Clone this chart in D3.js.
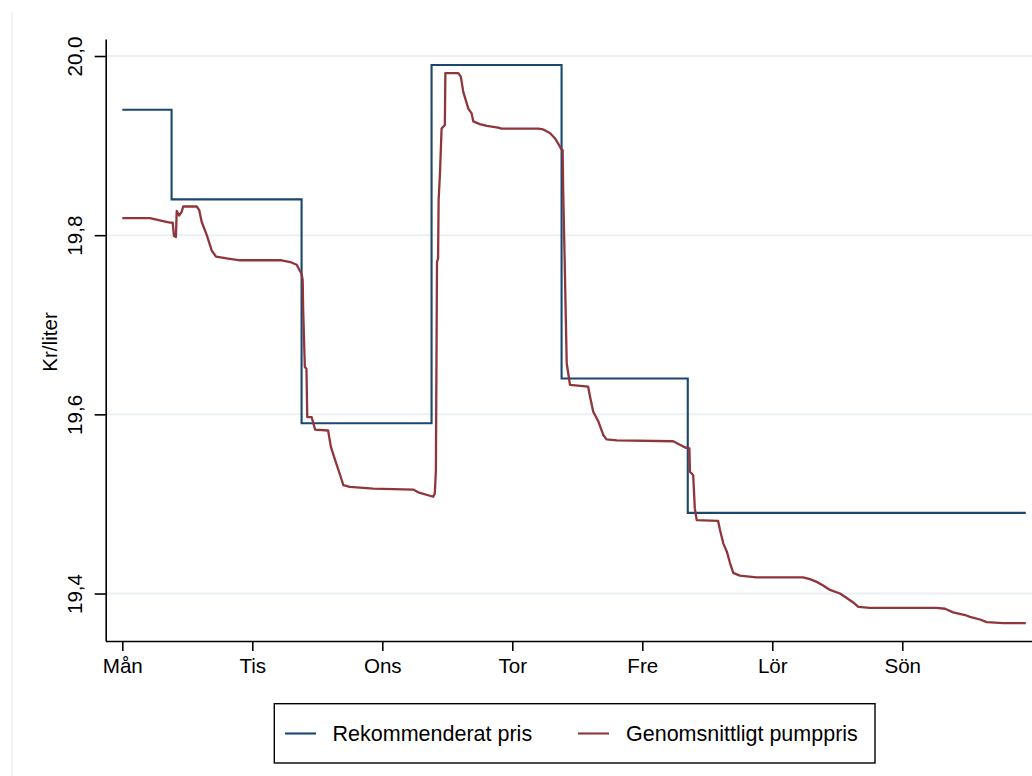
<!DOCTYPE html>
<html>
<head>
<meta charset="utf-8">
<script src="https://cdn.jsdelivr.net/npm/d3@7"></script>
<style>
  html, body { margin: 0; padding: 0; background: #ffffff; }
  svg { display: block; font-family: "Liberation Sans", Arial, Helvetica, sans-serif; }
</style>
</head>
<body>
<svg id="chart" width="1032" height="776"></svg>
<script>
// Weekday tick labels (one per day, hours since Monday 00:00)
const dayLabels = ["Mån", "Tis", "Ons", "Tor", "Fre", "Lör", "Sön"];
const dayHours = [0, 24, 48, 72, 96, 120, 144];

// Price ticks (kr/liter)
const priceTicks = [19.4, 19.6, 19.8, 20.0];

// Recommended price: changes in steps (hour of change, new price)
const recHours = [0, 9.1, 33.1, 57.1, 81.1, 104.4, 166.8];
const recPrice = [19.94, 19.84, 19.59, 19.99, 19.64, 19.49, 19.49];

// Average pump price over the week
const pumpHours = [
  0, 5.1, 7.3, 8.8, 9.3, 9.55, 9.9, 10.05, 10.5, 10.95, 11.25, 11.9, 13.75, 14.2, 14.65,
  15.6, 16.5, 17.3, 19.3, 21.7, 29.4, 31.0, 32.2, 32.8, 33.1, 33.3, 33.4, 33.7, 34.0,
  34.15, 34.95, 35.6, 38.0, 38.5, 39.3, 39.9, 40.5, 40.8, 42.0, 46.3, 53.7, 54.65, 57.4,
  57.7, 57.9, 58.1, 58.3, 58.4, 58.65, 58.95, 59.55, 59.65, 62.0, 62.5, 62.95, 63.9, 64.5,
  64.8, 66.0, 67.3, 69.4, 70.0, 76.8, 77.7, 78.95, 79.9, 80.5, 80.95, 81.3, 81.4, 81.7,
  82.05, 82.65, 86.0, 86.35, 86.95, 87.9, 88.8, 89.4, 91.3, 101.7, 102.95, 103.9, 104.7,
  104.8, 105.4, 105.7, 106.05, 110.0, 110.35, 110.95, 111.6, 112.2, 112.8, 114.0, 117.1,
  125.7, 126.95, 128.2, 129.4, 130.65, 132.5, 133.75, 134.95, 135.9, 138.0, 150.35, 151.9,
  153.4, 155.6, 156.5, 158.35, 159.6, 162.65, 166.8
];
const pumpPrice = [
  19.819, 19.819, 19.816, 19.814, 19.814, 19.799, 19.798, 19.827, 19.822, 19.826, 19.832, 19.832, 19.832, 19.828, 19.815,
  19.800, 19.783, 19.776, 19.774, 19.772, 19.772, 19.770, 19.767, 19.760, 19.757, 19.750, 19.716, 19.653, 19.651,
  19.597, 19.597, 19.583, 19.582, 19.564, 19.549, 19.538, 19.527, 19.521, 19.519, 19.517, 19.516, 19.513, 19.508,
  19.512, 19.538, 19.770, 19.774, 19.839, 19.869, 19.919, 19.923, 19.981, 19.981, 19.977, 19.960, 19.941, 19.936,
  19.927, 19.924, 19.922, 19.920, 19.919, 19.919, 19.918, 19.914, 19.908, 19.902, 19.897, 19.895, 19.850, 19.763,
  19.657, 19.633, 19.631, 19.620, 19.603, 19.592, 19.577, 19.572, 19.571, 19.570, 19.566, 19.563, 19.562,
  19.536, 19.532, 19.495, 19.482, 19.481, 19.471, 19.456, 19.447, 19.434, 19.423, 19.420, 19.418,
  19.418, 19.416, 19.413, 19.409, 19.404, 19.400, 19.395, 19.390, 19.385, 19.384, 19.384, 19.383,
  19.379, 19.376, 19.374, 19.371, 19.368, 19.367, 19.367
];

const seriesNames = ["Rekommenderat pris", "Genomsnittligt pumppris"];
const seriesColors = ["#1a476f", "#90353b"];

const svg = d3.select("#chart");
const fontSize = 20.6;
const legendFontSize = 21.5;

const plot = { left: 105.7, top: 39, bottom: 641 };

const x = d3.scaleLinear().domain([-3.1, 170.5]).range([105.5, 1045.8]);
const y = d3.scaleLinear().domain([19.347, 20.019]).range([plot.bottom, plot.top]);

// Faint outer frame edge
svg.append("line")
  .attr("x1", 12).attr("x2", 12).attr("y1", 12).attr("y2", 776)
  .attr("stroke", "#e9eef1").attr("stroke-width", 1.2);

// Horizontal grid lines
svg.append("g")
  .selectAll("line")
  .data(priceTicks)
  .join("line")
  .attr("x1", plot.left).attr("x2", 1032)
  .attr("y1", d => y(d)).attr("y2", d => y(d))
  .attr("stroke", "#eaf0f3").attr("stroke-width", 2);

const fmt = d => d3.format(".1f")(d).replace(".", ",");

// Y axis
const yAxis = svg.append("g")
  .attr("transform", `translate(${plot.left},0)`)
  .call(d3.axisLeft(y).tickValues(priceTicks).tickSize(11).tickSizeOuter(0).tickFormat(fmt));
yAxis.select(".domain").attr("stroke", "#000").attr("stroke-width", 1.6);
yAxis.selectAll(".tick line").attr("stroke", "#000").attr("stroke-width", 1.6);
yAxis.selectAll(".tick text")
  .attr("font-size", fontSize)
  .attr("font-family", "Liberation Sans, Arial, sans-serif")
  .attr("fill", "#000")
  .attr("text-anchor", "middle")
  .attr("dy", 0)
  .attr("x", 0)
  .attr("transform", "translate(-24,0) rotate(-90)");

// X axis
const xAxis = svg.append("g")
  .attr("transform", `translate(0,${plot.bottom})`)
  .call(d3.axisBottom(x).tickValues(dayHours).tickSize(10).tickSizeOuter(0)
    .tickFormat((d, i) => dayLabels[i]));
xAxis.select(".domain").attr("stroke", "#000").attr("stroke-width", 1.6);
xAxis.selectAll(".tick line").attr("stroke", "#000").attr("stroke-width", 1.6);
xAxis.selectAll(".tick text")
  .attr("font-size", fontSize)
  .attr("font-family", "Liberation Sans, Arial, sans-serif")
  .attr("fill", "#000")
  .attr("dy", 0)
  .attr("y", 31.5);

// Y axis title
svg.append("text")
  .attr("transform", `translate(57,${(plot.top + plot.bottom) / 2 + 2}) rotate(-90)`)
  .attr("text-anchor", "middle")
  .attr("font-size", fontSize)
  .attr("fill", "#000")
  .text("Kr/liter");

// Recommended price (step line)
const recData = recHours.map((h, i) => [h, recPrice[i]]);
svg.append("path")
  .datum(recData)
  .attr("fill", "none")
  .attr("stroke", seriesColors[0])
  .attr("stroke-width", 2.1)
  .attr("d", d3.line().x(d => x(d[0])).y(d => y(d[1])).curve(d3.curveStepAfter));

// Average pump price
const pumpData = pumpHours.map((h, i) => [h, pumpPrice[i]]);
svg.append("path")
  .datum(pumpData)
  .attr("fill", "none")
  .attr("stroke", seriesColors[1])
  .attr("stroke-width", 2.3)
  .attr("stroke-linejoin", "round")
  .attr("d", d3.line().x(d => x(d[0])).y(d => y(d[1])));

// Legend
const legend = svg.append("g");
legend.append("rect")
  .attr("x", 274.3).attr("y", 703.7)
  .attr("width", 600.7).attr("height", 59.3)
  .attr("fill", "#fff").attr("stroke", "#000").attr("stroke-width", 1.4);

const legendItems = [
  { x0: 285, x1: 316, tx: 332.6 },
  { x0: 578, x1: 609, tx: 626 }
];
legendItems.forEach((it, i) => {
  legend.append("line")
    .attr("x1", it.x0).attr("x2", it.x1)
    .attr("y1", 733.5).attr("y2", 733.5)
    .attr("stroke", seriesColors[i]).attr("stroke-width", 2.1);
  legend.append("text")
    .attr("x", it.tx).attr("y", 741)
    .attr("font-size", legendFontSize)
    .attr("fill", "#000")
    .text(seriesNames[i]);
});
</script>
</body>
</html>
